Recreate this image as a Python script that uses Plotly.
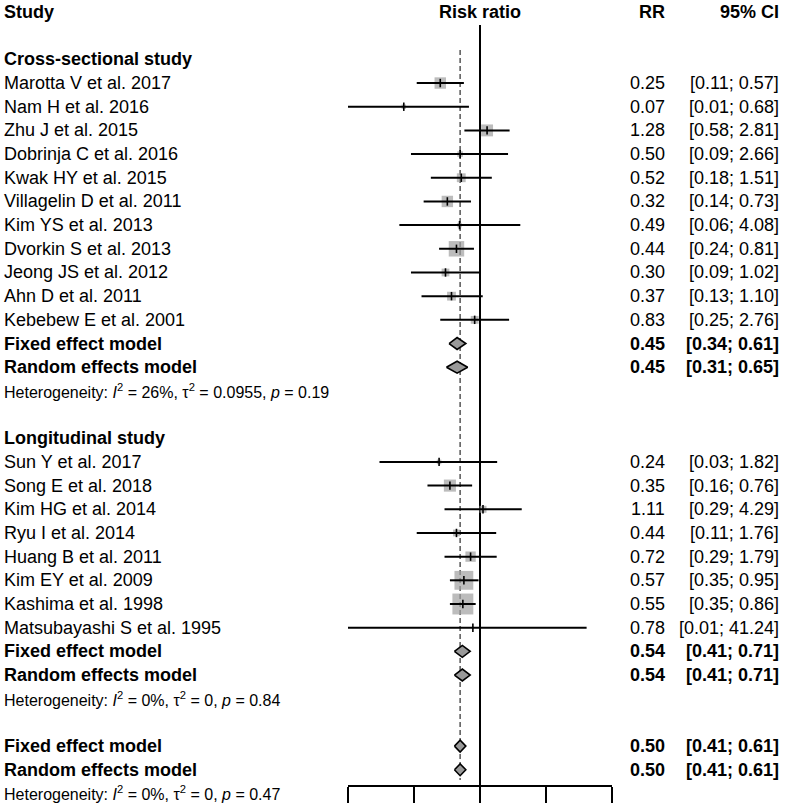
import numpy as np
import plotly.graph_objects as go

# ---------------- data ----------------
cs_study = ["Marotta V et al. 2017", "Nam H et al. 2016", "Zhu J et al. 2015",
            "Dobrinja C et al. 2016", "Kwak HY et al. 2015", "Villagelin D et al. 2011",
            "Kim YS et al. 2013", "Dvorkin S et al. 2013", "Jeong JS et al. 2012",
            "Ahn D et al. 2011", "Kebebew E et al. 2001"]
cs_rr = [0.25, 0.07, 1.28, 0.50, 0.52, 0.32, 0.49, 0.44, 0.30, 0.37, 0.83]
cs_lo = [0.11, 0.01, 0.58, 0.09, 0.18, 0.14, 0.06, 0.24, 0.09, 0.13, 0.25]
cs_hi = [0.57, 0.68, 2.81, 2.66, 1.51, 0.73, 4.08, 0.81, 1.02, 1.10, 2.76]

lg_study = ["Sun Y et al. 2017", "Song E et al. 2018", "Kim HG et al. 2014",
            "Ryu I et al. 2014", "Huang B et al. 2011", "Kim EY et al. 2009",
            "Kashima et al. 1998", "Matsubayashi S et al. 1995"]
lg_rr = [0.24, 0.35, 1.11, 0.44, 0.72, 0.57, 0.55, 0.78]
lg_lo = [0.03, 0.16, 0.29, 0.11, 0.29, 0.35, 0.35, 0.01]
lg_hi = [1.82, 0.76, 4.29, 1.76, 1.79, 0.95, 0.86, 41.24]

# summaries: (estimate, lower, upper)
cs_fixed = (0.45, 0.34, 0.61)
cs_random = (0.45, 0.31, 0.65)
lg_fixed = (0.54, 0.41, 0.71)
lg_random = (0.54, 0.41, 0.71)
all_fixed = (0.50, 0.41, 0.61)
all_random = (0.50, 0.41, 0.61)

# heterogeneity: (I2 %, tau2, p)
cs_het = ("26%", "0.0955", "0.19")
lg_het = ("0%", "0", "0.84")
all_het = ("0%", "0", "0.47")

tick_vals = [0.01, 0.1, 1, 10, 100]

# ---------------- layout constants ----------------
W, H = 787, 805
ROW0_PX = 12.0
ROW_PX = 23.68
X_NULL_PX = 480.0
PX_PER_DEC = 66.0
FONT = "Liberation Sans, Arial, Helvetica, sans-serif"
FS = 18
FS_HET = 16


def px2row(p):
    return (p - ROW0_PX) / ROW_PX


def xp(p):
    return p / W


fig = go.Figure()
ann = []


def text(x_px, row, s, anchor="left", size=FS, bold=False):
    if bold:
        s = "<b>" + s + "</b>"
    ann.append(dict(x=xp(x_px), xref="paper", y=row, yref="y", text=s,
                    showarrow=False, xanchor=anchor, yanchor="middle",
                    font=dict(family=FONT, size=size, color="black")))


def fmt_ci(lo, hi):
    return "[%.2f; %.2f]" % (lo, hi)


# build row structure
studies = []   # (row, name, rr, lo, hi)
diamonds = []  # (row, label, est, lo, hi)
hets = []

row = 2
text(2, row, "Cross-sectional study", bold=True)
row += 1
for n, r, lo, hi in zip(cs_study, cs_rr, cs_lo, cs_hi):
    studies.append((row, n, r, lo, hi)); row += 1
diamonds.append((row, "Fixed effect model", *cs_fixed)); row += 1
diamonds.append((row, "Random effects model", *cs_random)); row += 1
hets.append((row, cs_het)); row += 2
text(2, row, "Longitudinal study", bold=True)
row += 1
for n, r, lo, hi in zip(lg_study, lg_rr, lg_lo, lg_hi):
    studies.append((row, n, r, lo, hi)); row += 1
diamonds.append((row, "Fixed effect model", *lg_fixed)); row += 1
diamonds.append((row, "Random effects model", *lg_random)); row += 1
hets.append((row, lg_het)); row += 2
diamonds.append((row, "Fixed effect model", *all_fixed)); row += 1
diamonds.append((row, "Random effects model", *all_random)); row += 1
hets.append((row, all_het))

# header
text(2, 0, "Study", bold=True)
text(480, 0, "Risk ratio", anchor="center", bold=True)
text(667, 0, "RR", anchor="right", bold=True)
text(781, 0, "95% CI", anchor="right", bold=True)

# reference lines
axis_px = 786
fig.add_trace(go.Scatter(x=[1, 1], y=[px2row(25), px2row(axis_px)], mode="lines",
                         line=dict(color="black", width=2), hoverinfo="skip"))
fig.add_trace(go.Scatter(x=[all_random[0]] * 2, y=[px2row(50), px2row(780)], mode="lines",
                         line=dict(color="#555555", width=1.5, dash="5px,3px"),
                         hoverinfo="skip"))

# study squares (area ~ inverse-variance weight)
s_rows = [s[0] for s in studies]
s_rr = [s[2] for s in studies]
se = [(np.log(s[4]) - np.log(s[3])) / (2 * 1.96) for s in studies]
sizes = [max(2.0, 4.8 / v) for v in se]
fig.add_trace(go.Scatter(x=s_rr, y=s_rows, mode="markers",
                         marker=dict(symbol="square", size=sizes, color="#a0a0a0",
                                     line=dict(width=0)), hoverinfo="skip"))
# CI lines
cx, cy = [], []
for r, n, rr, lo, hi in studies:
    cx += [lo, hi, None]
    cy += [r, r, None]
fig.add_trace(go.Scatter(x=cx, y=cy, mode="lines", line=dict(color="black", width=2),
                         hoverinfo="skip"))
fig.add_trace(go.Scatter(x=s_rr, y=s_rows, mode="markers",
                         marker=dict(symbol="line-ns", size=6,
                                     line=dict(color="black", width=1.6)),
                         hoverinfo="skip"))

# diamonds
hh = 0.25
for r, lab, est, lo, hi in diamonds:
    fig.add_trace(go.Scatter(x=[lo, est, hi, est, lo], y=[r, r - hh, r, r + hh, r],
                             mode="lines", fill="toself", fillcolor="#999999",
                             line=dict(color="black", width=1.6), hoverinfo="skip"))

# texts
for r, n, rr, lo, hi in studies:
    text(2, r, n)
    text(667, r, "%.2f" % rr, anchor="right")
    text(781, r, fmt_ci(lo, hi), anchor="right")
for r, lab, est, lo, hi in diamonds:
    text(2, r, lab, bold=True)
    text(667, r, "%.2f" % est, anchor="right", bold=True)
    text(781, r, fmt_ci(lo, hi), anchor="right", bold=True)
for r, (i2, t2, p) in hets:
    s = ("Heterogeneity: <i>I</i><sup>2</sup> = %s, \u03c4<sup>2</sup> = %s, <i>p</i> = %s"
         % (i2, t2, p))
    text(2, r, s, size=FS_HET)

# invisible trace for the visible bottom axis
fig.add_trace(go.Scatter(x=[1], y=[px2row(axis_px)], xaxis="x2", yaxis="y",
                         mode="markers", marker=dict(opacity=0), hoverinfo="skip"))

fig.update_layout(
    width=W, height=H, margin=dict(l=0, r=0, t=0, b=0),
    paper_bgcolor="white", plot_bgcolor="rgba(0,0,0,0)",
    showlegend=False, annotations=ann,
    xaxis=dict(type="log", domain=[0, 1],
               range=[(0 - X_NULL_PX) / PX_PER_DEC, (W - X_NULL_PX) / PX_PER_DEC],
               visible=False, fixedrange=True),
    xaxis2=dict(type="log", domain=[xp(348), xp(612)], range=[-2, 2],
                anchor="free", position=(H - axis_px) / H,
                showline=True, linecolor="black", linewidth=1.5,
                ticks="outside", ticklen=16, tickwidth=1.5, tickcolor="black",
                tickvals=tick_vals, showticklabels=False, showgrid=False,
                zeroline=False, fixedrange=True),
    yaxis=dict(domain=[0, 1], range=[px2row(H), px2row(0)], visible=False,
               fixedrange=True),
)

fig.write_html("out.html", config={"displayModeBar": False},
               post_script="document.body.style.margin='0';document.body.style.overflow='hidden';")
